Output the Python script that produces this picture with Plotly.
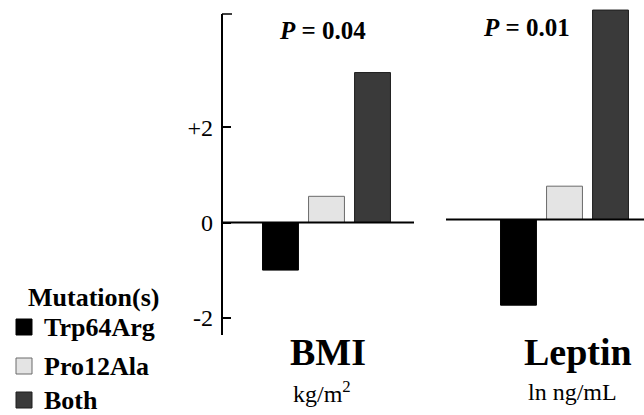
import plotly.graph_objects as go

measures = ["BMI", "Leptin"]
mutations = ["Trp64Arg", "Pro12Ala", "Both"]
bmi_values = [-1.0, 0.55, 3.15]
leptin_values = [-1.8, 0.7, 4.4]
p_values = ["0.04", "0.01"]
units = ["kg/m<sup>2</sup>", "ln ng/mL"]
tick_vals = [-2, 0, 2]
tick_text = ["-2", "0", "+2"]

fill_colors = ["#000000", "#e4e4e4", "#3a3a3a"]
edge_colors = ["#000000", "#6a6a6a", "#1e1e1e"]
FONT = "Liberation Serif, Times New Roman, Tinos, serif"

W, H = 644, 415
S = 47.6          # px per unit
Z1, Z2 = 222.5, 219.5   # zero line pixel rows (BMI, Leptin)
AX = 222          # y-axis pixel column
XC0, XSP = 326.5, 238   # category 0 centre px, px per category

def xr(px):
    return (px - XC0) / XSP

fig = go.Figure()
series = [("y", "BMI", bmi_values), ("y2", "Leptin", leptin_values)]
for yax, cat, vals in series:
    for i, m in enumerate(mutations):
        fig.add_trace(go.Bar(
            x=[cat], y=[vals[i]], name=m, yaxis=yax,
            legendgroup=m, showlegend=False,
            marker=dict(color=fill_colors[i], line=dict(color=edge_colors[i], width=1)),
        ))

top_tick = (Z1 - 14) / S
fig.update_layout(
    width=W, height=H,
    margin=dict(l=0, r=0, t=0, b=0, autoexpand=False),
    paper_bgcolor="white", plot_bgcolor="white",
    barmode="group", bargap=0.42, bargroupgap=0.22,
    font=dict(family=FONT, color="black"),
    xaxis=dict(domain=[AX / W, 1], range=[xr(AX), xr(W)], type="category",
               categoryorder="array", categoryarray=measures,
               visible=False),
    yaxis=dict(domain=[0, 1], range=[-(H - Z1) / S, Z1 / S], automargin=False,
               showline=False, showgrid=False, zeroline=False,
               ticks="inside", ticklen=9, tickwidth=1.5, tickcolor="black",
               tickvals=tick_vals, ticktext=tick_text,
               tickfont=dict(size=24, family=FONT), ticklabelstandoff=8),
    yaxis2=dict(overlaying="y", anchor="x", range=[-(H - Z2) / S, Z2 / S],
                visible=False),
    showlegend=False,
)

# axis line, top cap tick and zero baselines
fig.add_shape(type="line", xref="paper", yref="y", x0=AX / W, x1=AX / W,
              y0=-(335 - Z1) / S, y1=top_tick, line=dict(color="black", width=2))
fig.add_shape(type="line", xref="paper", yref="y", x0=AX / W, x1=(AX + 10) / W,
              y0=top_tick, y1=top_tick, line=dict(color="black", width=1.5))
fig.add_shape(type="line", xref="x", yref="y", x0=xr(AX), x1=xr(414), y0=0, y1=0,
              line=dict(color="black", width=2))
fig.add_shape(type="line", xref="x", yref="y2", x0=xr(446), x1=xr(W), y0=0, y1=0,
              line=dict(color="black", width=2))

# annotations
p_pos = [(322, 31), (526, 28)]
label_pos = [(328, 352), (578, 352)]
unit_pos = [(322, 392), (572, 392)]
for k, cat in enumerate(measures):
    fig.add_annotation(x=p_pos[k][0] / W, y=1 - p_pos[k][1] / H, xref="paper", yref="paper",
                       text="<b><i>P</i> = " + p_values[k] + "</b>", showarrow=False,
                       font=dict(size=25, family=FONT), xanchor="center", yanchor="middle")
    fig.add_annotation(x=label_pos[k][0] / W, y=1 - label_pos[k][1] / H, xref="paper", yref="paper",
                       text="<b>" + cat + "</b>", showarrow=False,
                       font=dict(size=38, family=FONT), xanchor="center", yanchor="middle")
    fig.add_annotation(x=unit_pos[k][0] / W, y=1 - unit_pos[k][1] / H, xref="paper", yref="paper",
                       text=units[k], showarrow=False,
                       font=dict(size=24, family=FONT), xanchor="center", yanchor="middle")

# legend (manual)
fig.add_annotation(x=93 / W, y=1 - 297 / H, xref="paper", yref="paper",
                   text="<b>Mutation(s)</b>", showarrow=False,
                   font=dict(size=26, family=FONT), xanchor="center", yanchor="middle")
leg_y = [327, 366, 400]
for i, m in enumerate(mutations):
    yc = leg_y[i]
    fig.add_shape(type="rect", xref="paper", yref="paper",
                  x0=16 / W, x1=32 / W, y0=1 - (yc - 8) / H, y1=1 - (yc + 8) / H,
                  fillcolor=fill_colors[i], line=dict(color=edge_colors[i], width=1))
    fig.add_annotation(x=42 / W, y=1 - yc / H, xref="paper", yref="paper",
                       text="<b>" + m + "</b>", showarrow=False,
                       font=dict(size=26, family=FONT), xanchor="left", yanchor="middle")

fig.write_html("out.html")
